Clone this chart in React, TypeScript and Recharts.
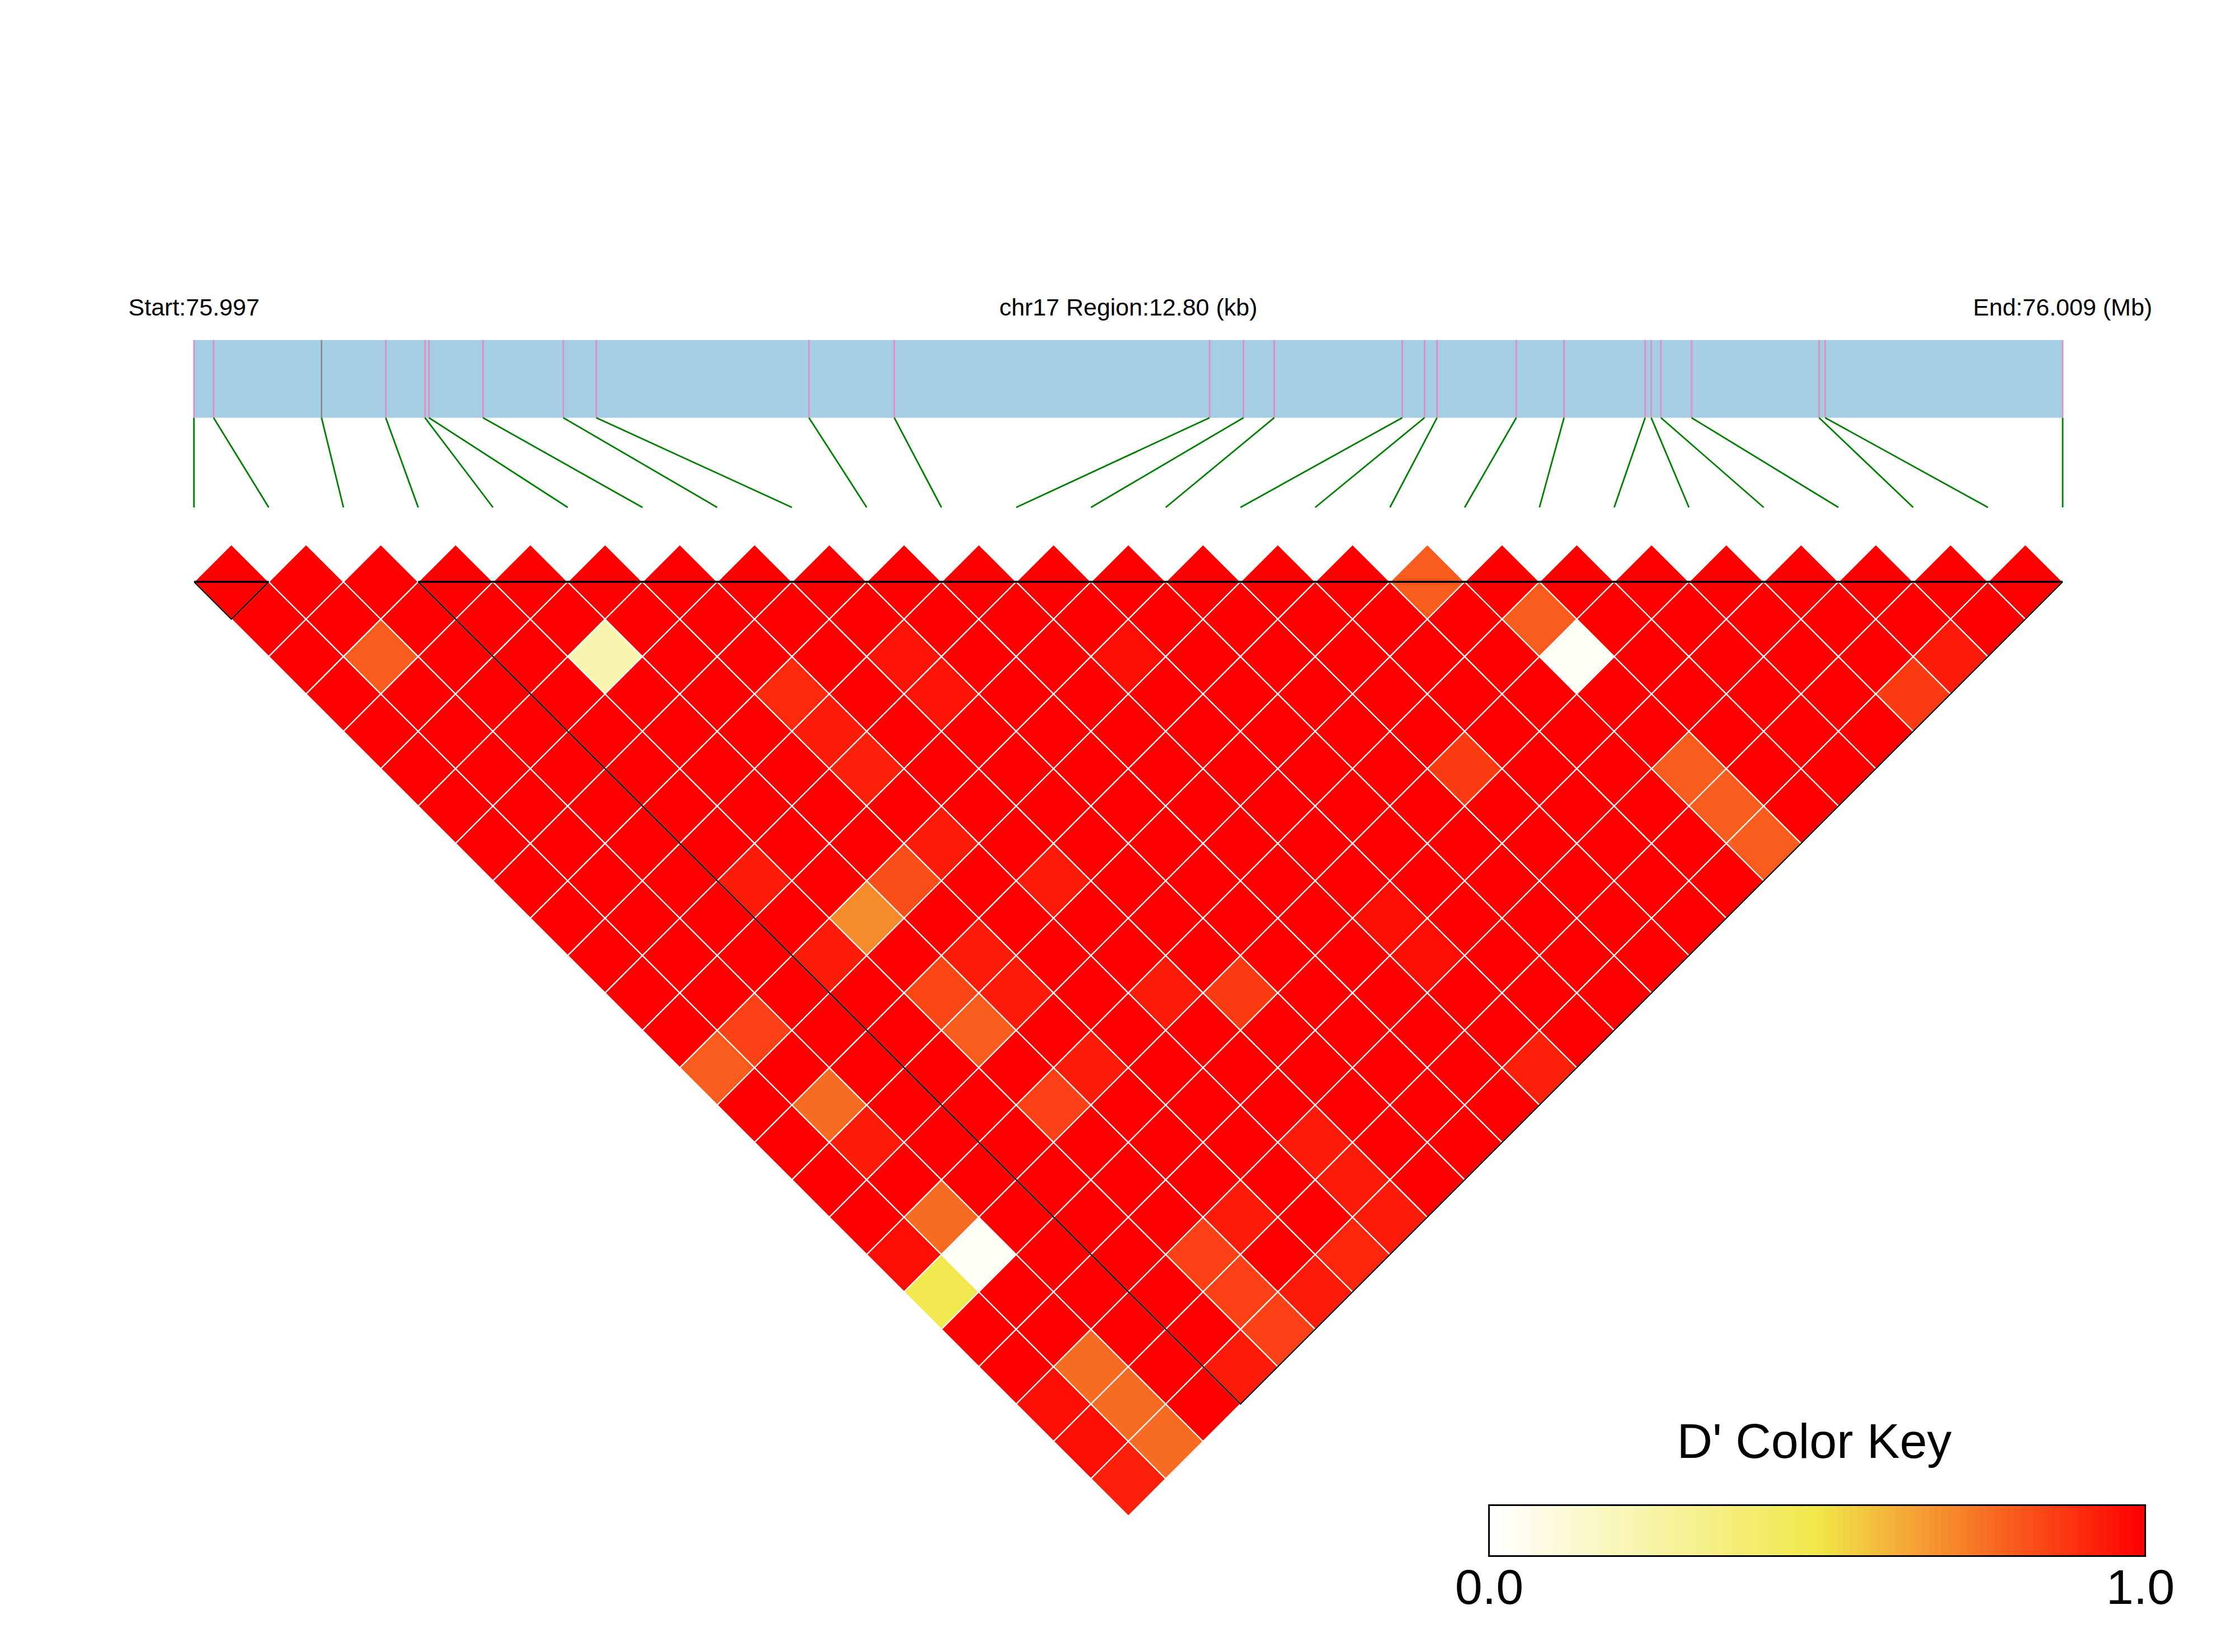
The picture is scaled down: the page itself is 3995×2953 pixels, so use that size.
import React from 'react';
import {
  ScatterChart, Scatter, XAxis, YAxis, ReferenceArea, ReferenceLine, ReferenceDot,
  BarChart, Bar, Cell,
} from 'recharts';

// ---------------- data ----------------
const regionStartLabel = 'Start:75.997';
const regionMidLabel = 'chr17 Region:12.80 (kb)';
const regionEndLabel = 'End:76.009 (Mb)';
const regionKb = 12.8;

// SNP positions, kb from region start
const snpOffsetKb = [
  0, 0.1345, 0.8737, 1.3136, 1.5822, 1.6098, 1.9796, 2.5295, 2.7556, 4.2125,
  4.7969, 6.9565, 7.1887, 7.3995, 8.2763, 8.4288, 8.5146, 9.0572, 9.3845, 9.9401,
  9.9815, 10.0482, 10.2578, 11.1315, 11.1729, 12.8,
];
const snpMarkerColors = [
  '#E78AC3', '#E78AC3', '#888888', '#E78AC3', '#E78AC3', '#E78AC3', '#E78AC3', '#E78AC3', '#E78AC3', '#E78AC3',
  '#E78AC3', '#E78AC3', '#E78AC3', '#E78AC3', '#E78AC3', '#E78AC3', '#E78AC3', '#E78AC3', '#E78AC3', '#E78AC3',
  '#E78AC3', '#E78AC3', '#E78AC3', '#E78AC3', '#E78AC3', '#E78AC3',
];

// D' values: row i holds pairs (i, j) for j = i+1 .. 25
const dprimeRows: number[][] = [
  [1, 1, 1, 1, 1, 1, 1, 1, 1, 1, 1, 1, 1, 0.80, 1, 1, 1, 1, 0.97, 0.49, 1, 1, 0.97, 0.97, 0.93],
  [1, 1, 0.80, 1, 1, 1, 1, 1, 1, 1, 1, 1, 0.86, 1, 0.77, 0.94, 1, 0.77, 0.03, 1, 1, 0.77, 0.77, 0.77],
  [1, 1, 1, 1, 1, 1, 1, 1, 1, 1, 1, 1, 1, 1, 1, 1, 1, 1, 1, 1, 1, 1, 1],
  [1, 1, 1, 1, 1, 1, 1, 1, 0.94, 1, 0.94, 1, 1, 1, 1, 1, 1, 1, 1, 1, 1, 0.94],
  [1, 1, 0.22, 1, 1, 1, 1, 1, 1, 0.70, 1, 0.85, 0.80, 1, 0.86, 1, 1, 1, 0.86, 0.86, 0.86],
  [1, 1, 1, 1, 1, 1, 1, 1, 0.83, 1, 0.94, 0.94, 1, 0.94, 1, 1, 1, 0.94, 1, 0.94],
  [1, 1, 1, 0.91, 0.94, 0.93, 1, 0.94, 1, 1, 1, 1, 1, 1, 1, 1, 1, 1, 0.92],
  [1, 1, 1, 1, 1, 1, 1, 1, 0.94, 1, 1, 0.94, 1, 1, 1, 0.94, 0.94, 0.94],
  [1, 1, 0.96, 0.96, 1, 1, 1, 1, 1, 1, 1, 0.87, 1, 1, 1, 1, 1],
  [1, 1, 1, 1, 1, 1, 1, 1, 1, 1, 1, 1, 1, 1, 1, 1],
  [1, 1, 1, 1, 1, 1, 1, 1, 1, 1, 1, 1, 1, 1, 1],
  [1, 1, 0.97, 1, 1, 1, 1, 1, 1, 0.97, 0.97, 1, 1, 0.93],
  [1, 1, 1, 1, 1, 1, 1, 1, 1, 1, 1, 1, 1],
  [1, 1, 1, 1, 1, 1, 1, 1, 1, 1, 1, 1],
  [1, 1, 1, 1, 1, 0.87, 1, 1, 1, 1, 1],
  [1, 1, 1, 1, 1, 1, 1, 1, 1, 1],
  [0.80, 1, 1, 1, 1, 1, 1, 1, 1],
  [1, 0.80, 0.03, 1, 1, 0.80, 0.80, 0.80],
  [1, 1, 1, 1, 1, 1, 1],
  [1, 1, 1, 1, 1, 1],
  [1, 1, 1, 1, 1],
  [1, 1, 1, 0.87],
  [1, 1, 0.94],
  [1, 1],
  [1],
];

// LD blocks (first SNP, last SNP)
const ldBlocks: [number, number][] = [[0, 1], [3, 25]];

const keyTitle = "D' Color Key";
const keyTickLabels = ['0.0', '1.0'];
const keySteps = 100;
const colorStops: [number, string][] = [[0, '#FFFFFF'], [0.5, '#F0E84A'], [1, '#FF0000']];

// ---------------- layout ----------------
const W = 3995;
const H = 2953;
const X0 = 346.7;
const X1 = 3687;
const Y_BASE = 1040;
const N_SNP = snpOffsetKb.length;
const UPX = (X1 - X0) / (N_SNP - 1);
const VPX = UPX / 2;
const Y_MIN = -Y_BASE / VPX;
const Y_MAX = (H - Y_BASE) / VPX;
const pxToV = (py: number) => (py - Y_BASE) / VPX;
const BAR_TOP_V = pxToV(607.7);
const BAR_BOT_V = pxToV(746.7);
const LINK_BOT_V = pxToV(907);
const LABEL_V = pxToV(564);
const kbToU = (kb: number) => (kb / regionKb) * (N_SNP - 1);
const FONT = '"Liberation Sans", Arial, Helvetica, sans-serif';

const KEY_L = 2662;
const KEY_T = 2691;
const KEY_W = 1172;
const KEY_H = 90;

// ---------------- helpers ----------------
function hexToRgb(h: string) {
  const n = parseInt(h.slice(1), 16);
  return [(n >> 16) & 255, (n >> 8) & 255, n & 255];
}
function ramp(t: number) {
  const v = Math.max(0, Math.min(1, t));
  for (let k = 0; k < colorStops.length - 1; k++) {
    const [a, ca] = colorStops[k];
    const [b, cb] = colorStops[k + 1];
    if (v <= b) {
      const f = (v - a) / (b - a);
      const A = hexToRgb(ca);
      const B = hexToRgb(cb);
      const c = A.map((x, i) => Math.round(x + (B[i] - x) * f));
      return `rgb(${c[0]},${c[1]},${c[2]})`;
    }
  }
  return colorStops[colorStops.length - 1][1];
}

const cells = dprimeRows.flatMap((row, i) =>
  row.map((d, k) => {
    const j = i + 1 + k;
    return { x: (i + j) / 2, y: j - i - 1, d };
  })
);

const blockTops = ldBlocks.map(([a, b]) => [{ x: a, y: 0 }, { x: b, y: 0 }]);
const blockSides = ldBlocks.map(([a, b]) => [{ x: a, y: 0 }, { x: (a + b) / 2, y: b - a }, { x: b, y: 0 }]);

const keyData = Array.from({ length: keySteps }, (_, k) => ({ k, v: 1, c: ramp(k / (keySteps - 1)) }));

const Diamond = (props: any) => {
  const { cx, cy } = props;
  const d = props.payload ? props.payload.d : props.d;
  const pts = `${cx},${cy - VPX} ${cx + VPX},${cy} ${cx},${cy + VPX} ${cx - VPX},${cy}`;
  return <polygon points={pts} fill={ramp(d)} stroke="#FFFFFF" strokeWidth={2.2} />;
};
const NoDot = () => <g />;

const makeText = (txt: string) => (p: any) => (
  <text x={p.cx} y={p.cy} textAnchor="middle" fontFamily={FONT} fontSize={43} fill="#000">{txt}</text>
);

export default function App() {
  return (
    <div style={{ position: 'absolute', left: 0, top: 0, width: W, height: H, background: '#fff' }}>
      <ScatterChart width={W} height={H} margin={{ top: 0, right: W - X1, bottom: 0, left: X0 }}>
        <XAxis xAxisId="snp" type="number" dataKey="x" domain={[0, N_SNP - 1]} allowDataOverflow hide />
        <YAxis yAxisId="v" type="number" dataKey="y" domain={[Y_MIN, Y_MAX]} reversed allowDataOverflow hide />

        <ReferenceArea xAxisId="snp" yAxisId="v" x1={0} x2={N_SNP - 1} y1={BAR_TOP_V} y2={BAR_BOT_V}
          fill="#A6CEE3" fillOpacity={1} stroke="none" ifOverflow="visible" />

        {snpOffsetKb.map((kb, i) => (
          <ReferenceLine key={`p${i}`} xAxisId="snp" yAxisId="v" ifOverflow="visible"
            segment={[{ x: kbToU(kb), y: BAR_TOP_V }, { x: kbToU(kb), y: BAR_BOT_V }]}
            stroke={snpMarkerColors[i]} strokeWidth={2.6} />
        ))}
        {snpOffsetKb.map((kb, i) => (
          <ReferenceLine key={`g${i}`} xAxisId="snp" yAxisId="v" ifOverflow="visible"
            segment={[{ x: kbToU(kb), y: BAR_BOT_V }, { x: i, y: LINK_BOT_V }]}
            stroke="#008000" strokeWidth={2.8} />
        ))}

        <Scatter xAxisId="snp" yAxisId="v" data={cells} shape={Diamond} isAnimationActive={false} />

        {blockSides.map((pts, n) => (
          <Scatter key={`bs${n}`} xAxisId="snp" yAxisId="v" data={pts} shape={NoDot}
            line={{ stroke: '#000', strokeWidth: 2.2 }} lineType="joint" isAnimationActive={false} />
        ))}
        {blockTops.map((pts, n) => (
          <Scatter key={`bt${n}`} xAxisId="snp" yAxisId="v" data={pts} shape={NoDot}
            line={{ stroke: '#000', strokeWidth: 3.5 }} lineType="joint" isAnimationActive={false} />
        ))}

        <ReferenceDot xAxisId="snp" yAxisId="v" x={0} y={LABEL_V} r={0} ifOverflow="visible" shape={makeText(regionStartLabel)} />
        <ReferenceDot xAxisId="snp" yAxisId="v" x={(N_SNP - 1) / 2} y={LABEL_V} r={0} ifOverflow="visible" shape={makeText(regionMidLabel)} />
        <ReferenceDot xAxisId="snp" yAxisId="v" x={N_SNP - 1} y={LABEL_V} r={0} ifOverflow="visible" shape={makeText(regionEndLabel)} />
      </ScatterChart>

      <div style={{ position: 'absolute', left: KEY_L, top: KEY_T, width: KEY_W, height: KEY_H }}>
        <BarChart width={KEY_W} height={KEY_H} data={keyData} margin={{ top: 0, right: 0, bottom: 0, left: 0 }}
          barCategoryGap={0} barGap={0}>
          <XAxis dataKey="k" hide />
          <YAxis domain={[0, 1]} hide />
          <Bar dataKey="v" isAnimationActive={false}>
            {keyData.map((e) => (
              <Cell key={e.k} fill={e.c} stroke={e.c} strokeWidth={0.5} />
            ))}
          </Bar>
        </BarChart>
      </div>
      <div style={{
        position: 'absolute', left: KEY_L - 2, top: KEY_T - 2, width: KEY_W + 4, height: KEY_H + 4,
        border: '3px solid #000', boxSizing: 'border-box', pointerEvents: 'none',
      }} />

      <svg width={W} height={H} style={{ position: 'absolute', left: 0, top: 0, pointerEvents: 'none' }}>
        <text x={KEY_L + KEY_W / 2 - 5} y={2606} textAnchor="middle" fontFamily={FONT} fontSize={88} fill="#000">{keyTitle}</text>
        <text x={KEY_L} y={2867} textAnchor="middle" fontFamily={FONT} fontSize={88} fill="#000">{keyTickLabels[0]}</text>
        <text x={KEY_L + KEY_W - 8} y={2867} textAnchor="middle" fontFamily={FONT} fontSize={88} fill="#000">{keyTickLabels[1]}</text>
      </svg>
    </div>
  );
}
